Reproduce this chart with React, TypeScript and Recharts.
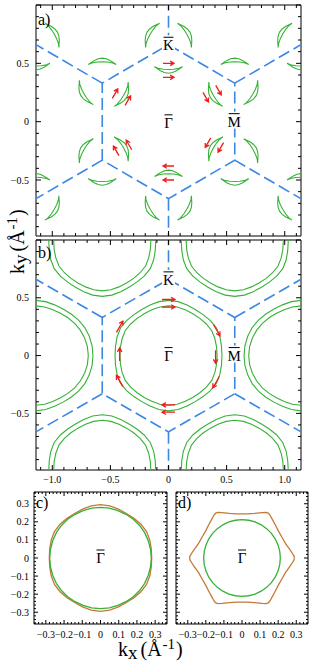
import React from 'react';
import { ScatterChart, Scatter, XAxis, YAxis } from 'recharts';

type Pt = { x: number; y: number };

const GREEN = '#35b235';
const RED = '#ee1d1d';
const BLUE = '#3b87e4';
const ORANGE = '#c47a36';
const SERIF = '"Liberation Serif", "Times New Roman", serif';

// Γ points of the surface lattice around the window of a) and b)
const gammaX = [0, 1.14, -1.14, 0.57, -0.57, 0.57, -0.57];
const gammaY = [0, 0, 0, 0.99, 0.99, -0.99, -0.99];

// zone boundary: central hexagon through the K corners, plus the spokes to the next zones
const hexX = [0, 0.57, 0.57, 0, -0.57, -0.57, 0];
const hexY = [0.66, 0.33, -0.33, -0.66, -0.33, 0.33, 0.66];
const spokeX0 = [0, 0.57, 0.57, 0, -0.57, -0.57];
const spokeY0 = [0.66, 0.33, -0.33, -0.66, -0.33, 0.33];
const spokeX1 = [0, 1.14, 1.14, 0, -1.14, -1.14];
const spokeY1 = [1.32, 0.66, -0.66, -1.32, -0.66, 0.66];

// a) crescent pockets: directions from each Γ, distance per Γ, outline (u along, v across)
const crescentDirs = [30, 90, 150, 210, 270, 330];
const crescentDist = [0.44, 0.47, 0.47, 0.47, 0.47, 0.47, 0.47];
const crescentU = [-0.12, -0.09, -0.045, 0, 0.045, 0.09, 0.12, 0.1, 0.07, 0.035, 0, -0.035, -0.07, -0.1, -0.12];
const crescentV = [0.03, 0.017, 0.009, 0.007, 0.009, 0.017, 0.03, 0.017, -0.003, -0.019, -0.025, -0.019, -0.003, 0.017, 0.03];

// a) spin arrows
const arrowAX = [0, 0, 0, 0, 0.32, 0.43, 0.34, 0.45, -0.35, -0.46, -0.34, -0.45];
const arrowAY = [0.5, 0.38, -0.38, -0.5, 0.21, 0.27, -0.18, -0.22, 0.18, 0.24, -0.2, -0.25];
const arrowADir = [0, 0, 180, 180, -60, -60, -120, -120, 60, 60, 120, 120];

// b) pockets, first quadrant (angle, radius); the left/right neighbours bulge towards the centre
const pocketAng = [0, 10, 20, 30, 40, 50, 60, 70, 80, 90];
const pocketOuterR = [0.46, 0.463, 0.471, 0.477, 0.471, 0.463, 0.46, 0.465, 0.474, 0.478];
const pocketInnerR = [0.418, 0.42, 0.425, 0.43, 0.425, 0.42, 0.418, 0.421, 0.427, 0.43];
const sideOuterR = [0.49, 0.49, 0.488, 0.485, 0.478, 0.47, 0.465, 0.467, 0.474, 0.478];
const sideInnerR = [0.45, 0.449, 0.445, 0.44, 0.434, 0.427, 0.422, 0.423, 0.427, 0.43];
const sidePocket = [false, true, true, false, false, false, false];

// b) spin arrows
const arrowBX = [0, 0, 0, 0, 0.415, 0.405, 0.41, -0.42, -0.42, -0.42];
const arrowBY = [0.485, 0.42, -0.427, -0.49, 0.22, -0.01, -0.23, 0.25, 0.01, -0.22];
const arrowBDir = [0, 0, 180, 180, -60, -90, -120, 60, 90, 120];

// c) and d) contours, first quadrant
const ringAng = [0, 10, 20, 30, 40, 50, 60, 70, 80, 90];
const cInnerR = [0.279, 0.279, 0.279, 0.28, 0.28, 0.28, 0.279, 0.279, 0.28, 0.28];
const cOuterR = [0.281, 0.283, 0.288, 0.292, 0.29, 0.286, 0.284, 0.288, 0.293, 0.295];
const dInnerR = [0.212, 0.212, 0.212, 0.212, 0.212, 0.212, 0.212, 0.212, 0.212, 0.212];
const dOuterX = [0.29, 0.287, 0.279, 0.266, 0.241, 0.221, 0.201, 0.183, 0.167, 0.156, 0.147, 0.135, 0.11, 0.07, 0.03, 0];
const dOuterY = [0, 0.012, 0.025, 0.045, 0.08, 0.115, 0.15, 0.185, 0.215, 0.235, 0.247, 0.252, 0.251, 0.247, 0.244, 0.244];

// high-symmetry point labels
const symAX = [0, 0, 0.565];
const symAY = [-0.01, 0.655, 0];
const symBX = [0, 0, 0.565];
const symBY = [0, 0.655, 0];
const symT = ['Γ', 'K', 'M'];

// ticks
const abTicksX = [-1.1, -1.0, -0.9, -0.8, -0.7, -0.6, -0.5, -0.4, -0.3, -0.2, -0.1, 0, 0.1, 0.2, 0.3, 0.4, 0.5, 0.6, 0.7, 0.8, 0.9, 1.0, 1.1];
const abTicksY = [-0.9, -0.8, -0.7, -0.6, -0.5, -0.4, -0.3, -0.2, -0.1, 0, 0.1, 0.2, 0.3, 0.4, 0.5, 0.6, 0.7, 0.8, 0.9, 1.0];
const abMajor = [-1.0, -0.5, 0, 0.5, 1.0];
const abLabelsX = [-1.0, -0.5, 0, 0.5, 1.0];
const abLabelsY = [-0.5, 0, 0.5];
const cdTicks = [-0.36, -0.34, -0.32, -0.3, -0.28, -0.26, -0.24, -0.22, -0.2, -0.18, -0.16, -0.14, -0.12, -0.1, -0.08, -0.06, -0.04, -0.02, 0, 0.02, 0.04, 0.06, 0.08, 0.1, 0.12, 0.14, 0.16, 0.18, 0.2, 0.22, 0.24, 0.26, 0.28, 0.3, 0.32, 0.34, 0.36];
const cdMajor = [-0.3, -0.2, -0.1, 0, 0.1, 0.2, 0.3];

const rad = (d: number) => (d * Math.PI) / 180;

// mirror a first-quadrant curve into a closed loop
const quadLoop = (q: Pt[], cx = 0, cy = 0): Pt[] => {
  const q2 = [...q].reverse().map((p) => ({ x: -p.x, y: p.y }));
  const q3 = q.map((p) => ({ x: -p.x, y: -p.y }));
  const q4 = [...q].reverse().map((p) => ({ x: p.x, y: -p.y }));
  return [...q, ...q2, ...q3, ...q4].map((p) => ({ x: p.x + cx, y: p.y + cy }));
};
const polarLoop = (ang: number[], r: number[], cx = 0, cy = 0) =>
  quadLoop(ang.map((a, i) => ({ x: r[i] * Math.cos(rad(a)), y: r[i] * Math.sin(rad(a)) })), cx, cy);

const crescent = (gx: number, gy: number, dist: number, dir: number): Pt[] => {
  const c = Math.cos(rad(dir));
  const s = Math.sin(rad(dir));
  return crescentU.map((u, i) => {
    const r = dist + crescentV[i];
    return { x: gx + r * c - u * s, y: gy + r * s + u * c };
  });
};

type Line = { pts: Pt[]; color: string; width: number; dash?: string };

const zoneLines = (): Line[] => [
  { pts: hexX.map((x, i) => ({ x, y: hexY[i] })), color: BLUE, width: 1.6, dash: '12 5' },
  ...spokeX0.map((x, i) => ({
    pts: [{ x, y: spokeY0[i] }, { x: spokeX1[i], y: spokeY1[i] }],
    color: BLUE,
    width: 1.6,
    dash: '12 5',
  })),
];

const linesA: Line[] = [
  ...zoneLines(),
  ...gammaX.flatMap((gx, g) =>
    crescentDirs.map((d) => ({ pts: crescent(gx, gammaY[g], crescentDist[g], d), color: GREEN, width: 1.1 })),
  ),
];
const linesB: Line[] = [
  ...zoneLines(),
  ...gammaX.flatMap((gx, g) => [
    { pts: polarLoop(pocketAng, sidePocket[g] ? sideOuterR : pocketOuterR, gx, gammaY[g]), color: GREEN, width: 1.1 },
    { pts: polarLoop(pocketAng, sidePocket[g] ? sideInnerR : pocketInnerR, gx, gammaY[g]), color: GREEN, width: 1.1 },
  ]),
];
const linesC: Line[] = [
  { pts: polarLoop(ringAng, cOuterR), color: ORANGE, width: 1.3 },
  { pts: polarLoop(ringAng, cInnerR), color: GREEN, width: 1.3 },
];
const linesD: Line[] = [
  { pts: quadLoop(dOuterX.map((x, i) => ({ x, y: dOuterY[i] }))), color: ORANGE, width: 1.3 },
  { pts: polarLoop(ringAng, dInnerR), color: GREEN, width: 1.3 },
];

const arrowsA = arrowAX.map((x, i) => ({ x, y: arrowAY[i], a: arrowADir[i] }));
const arrowsB = arrowBX.map((x, i) => ({ x, y: arrowBY[i], a: arrowBDir[i] }));
const symbolsA = symAX.map((x, i) => ({ x, y: symAY[i], t: symT[i] }));
const symbolsB = symBX.map((x, i) => ({ x, y: symBY[i], t: symT[i] }));
const symbolsC = [{ x: 0, y: 0, t: 'Γ' }];

const fmt = (v: number) => (v === 0 ? '0' : (v < 0 ? '\u2212' : '') + Math.abs(v).toFixed(1));
const near = (list: number[], v: number) => list.some((m) => Math.abs(m - v) < 1e-6);

function FrameTick(props: any) {
  const { x, y, payload, side, majors, labelled, gap, big, small } = props;
  const v = payload.value;
  const len = near(majors, v) ? big : small;
  const lab = near(labelled, v);
  const txt = { fontSize: 10, fontFamily: SERIF, fill: '#000' };
  if (side === 'bottom')
    return (
      <g>
        <line x1={x} y1={y} x2={x} y2={y - len} stroke="#000" />
        {lab && <text x={x} y={y + gap} textAnchor="middle" {...txt}>{fmt(v)}</text>}
      </g>
    );
  if (side === 'top') return <line x1={x} y1={y} x2={x} y2={y + len} stroke="#000" />;
  if (side === 'left')
    return (
      <g>
        <line x1={x} y1={y} x2={x + len} y2={y} stroke="#000" />
        {lab && <text x={x - gap} y={y + 3.5} textAnchor="end" {...txt}>{fmt(v)}</text>}
      </g>
    );
  return <line x1={x} y1={y} x2={x - len} y2={y} stroke="#000" />;
}

function ArrowMark(props: any) {
  const { cx, cy, len } = props;
  const d = props.payload ?? props;
  const dx = Math.cos(rad(d.a));
  const dy = -Math.sin(rad(d.a));
  const hx = cx + (dx * len) / 2;
  const hy = cy + (dy * len) / 2;
  const tx = cx - (dx * len) / 2;
  const ty = cy - (dy * len) / 2;
  const h = 4.5;
  const f = rad(30);
  const b1x = hx + h * (-dx * Math.cos(f) + dy * Math.sin(f));
  const b1y = hy + h * (-dx * Math.sin(f) - dy * Math.cos(f));
  const b2x = hx + h * (-dx * Math.cos(f) - dy * Math.sin(f));
  const b2y = hy + h * (dx * Math.sin(f) - dy * Math.cos(f));
  return (
    <path
      d={`M${tx},${ty}L${hx},${hy}M${b1x},${b1y}L${hx},${hy}L${b2x},${b2y}`}
      stroke={RED}
      strokeWidth={1.3}
      fill="none"
    />
  );
}

const SYMBOL_W: Record<string, number> = { 'Γ': 8, K: 10, M: 11 };

function SymbolMark(props: any) {
  const { cx, cy } = props;
  const d = props.payload ?? props;
  const w = SYMBOL_W[d.t] ?? 10;
  return (
    <g>
      <rect x={cx - w / 2 - 1.5} y={cy - 10} width={w + 3} height={17} fill="#fff" />
      <line x1={cx - w / 2} x2={cx + w / 2} y1={cy - 8} y2={cy - 8} stroke="#000" strokeWidth={1} />
      <text x={cx} y={cy + 5} textAnchor="middle" fontSize={15} fontFamily={SERIF} fill="#000">
        {d.t}
      </text>
    </g>
  );
}

const noDot = () => <g />;

interface PanelProps {
  left: number;
  top: number;
  width: number;
  height: number;
  xDomain: [number, number];
  yDomain: [number, number];
  axisW: [number, number];
  axisH: [number, number];
  xTicks: number[];
  yTicks: number[];
  majors: number[];
  xLabels: number[];
  yLabels: number[];
  xGap: number;
  yGap: number;
  tickLen: [number, number];
  lines: Line[];
  arrows?: { x: number; y: number; a: number }[];
  arrowLen?: number;
  symbols: { x: number; y: number; t: string }[];
}

function Panel(p: PanelProps) {
  const [big, small] = p.tickLen;
  const common = { type: 'number' as const, allowDataOverflow: true, interval: 0, tickSize: 0, tickMargin: 0, tickLine: false, axisLine: { stroke: '#000' } };
  return (
    <div style={{ position: 'absolute', left: p.left, top: p.top, width: p.width, height: p.height }}>
      <ScatterChart width={p.width} height={p.height} margin={{ top: 0, right: 0, bottom: 0, left: 0 }}>
        <XAxis
          {...common}
          xAxisId="b"
          dataKey="x"
          orientation="bottom"
          domain={p.xDomain}
          ticks={p.xTicks}
          height={p.axisH[1]}
          tick={<FrameTick side="bottom" majors={p.majors} labelled={p.xLabels} gap={p.xGap} big={big} small={small} />}
        />
        <XAxis
          {...common}
          xAxisId="t"
          dataKey="x"
          orientation="top"
          domain={p.xDomain}
          ticks={p.xTicks}
          height={p.axisH[0]}
          tick={<FrameTick side="top" majors={p.majors} labelled={[]} big={big} small={small} />}
        />
        <YAxis
          {...common}
          yAxisId="l"
          dataKey="y"
          orientation="left"
          domain={p.yDomain}
          ticks={p.yTicks}
          width={p.axisW[0]}
          tick={<FrameTick side="left" majors={p.majors} labelled={p.yLabels} gap={p.yGap} big={big} small={small} />}
        />
        <YAxis
          {...common}
          yAxisId="r"
          dataKey="y"
          orientation="right"
          domain={p.yDomain}
          ticks={p.yTicks}
          width={p.axisW[1]}
          tick={<FrameTick side="right" majors={p.majors} labelled={[]} big={big} small={small} />}
        />
        {p.lines.map((s, i) => (
          <Scatter
            key={'line' + i}
            xAxisId="b"
            yAxisId="l"
            data={s.pts}
            line={{ stroke: s.color, strokeWidth: s.width, strokeDasharray: s.dash }}
            lineType="joint"
            shape={noDot}
            isAnimationActive={false}
          />
        ))}
        {p.arrows && (
          <Scatter
            xAxisId="b"
            yAxisId="l"
            data={p.arrows}
            shape={(props: any) => <ArrowMark {...props} len={p.arrowLen} />}
            isAnimationActive={false}
          />
        )}
        <Scatter xAxisId="t" yAxisId="r" data={p.symbols} shape={SymbolMark} isAnimationActive={false} />
      </ScatterChart>
    </div>
  );
}

export default function App() {
  const abX: [number, number] = [-1.14, 1.14];
  const cd: [number, number] = [-0.365, 0.365];
  return (
    <div style={{ position: 'absolute', left: 0, top: 0, width: 318, height: 665, background: '#fff' }}>
      <Panel
        left={0} top={0} width={318} height={240}
        xDomain={abX} yDomain={[-0.98, 1.0]}
        axisW={[36, 17]} axisH={[5, 4]}
        xTicks={abTicksX} yTicks={abTicksY} majors={abMajor}
        xLabels={[]} yLabels={abLabelsY} xGap={12} yGap={7} tickLen={[5, 3]}
        lines={linesA} arrows={arrowsA} arrowLen={11} symbols={symbolsA}
      />
      <Panel
        left={0} top={237} width={318} height={253}
        xDomain={abX} yDomain={[-0.99, 1.0]}
        axisW={[36, 17]} axisH={[3, 20]}
        xTicks={abTicksX} yTicks={abTicksY} majors={abMajor}
        xLabels={abLabelsX} yLabels={abLabelsY} xGap={12.5} yGap={7} tickLen={[5, 3]}
        lines={linesB} arrows={arrowsB} arrowLen={13} symbols={symbolsB}
      />
      <Panel
        left={0} top={486} width={172} height={162}
        xDomain={cd} yDomain={cd}
        axisW={[34, 5]} axisH={[6, 24]}
        xTicks={cdTicks} yTicks={cdTicks} majors={cdMajor}
        xLabels={cdMajor} yLabels={cdMajor} xGap={13.5} yGap={5} tickLen={[4, 2]}
        lines={linesC} symbols={symbolsC}
      />
      <Panel
        left={170} top={486} width={148} height={162}
        xDomain={cd} yDomain={cd}
        axisW={[6, 10]} axisH={[6, 24]}
        xTicks={cdTicks} yTicks={cdTicks} majors={cdMajor}
        xLabels={cdMajor} yLabels={[]} xGap={13.5} yGap={5} tickLen={[4, 2]}
        lines={linesD} symbols={symbolsC}
      />
      <svg
        width={318}
        height={665}
        style={{ position: 'absolute', left: 0, top: 0, pointerEvents: 'none' }}
        fontFamily={SERIF}
        fill="#000"
      >
        <text x={38} y={25} fontSize={16}>a)</text>
        <text x={38} y={258} fontSize={16}>b)</text>
        <text x={36} y={508} fontSize={16}>c)</text>
        <text x={178} y={508} fontSize={16}>d)</text>
        <text x={118} y={656} fontSize={20}>
          k<tspan fontSize={19} dy={3}>x</tspan>
          <tspan dx={3} dy={-3}>(Å</tspan>
          <tspan fontSize={15} dx={1} dy={-7}>-1</tspan>
          <tspan dx={1} dy={7}>)</tspan>
        </text>
        <text transform="translate(24,274) rotate(-90)" x={0} y={0} fontSize={20}>
          k<tspan fontSize={19} dy={3}>y</tspan>
          <tspan dx={3} dy={-3}>(Å</tspan>
          <tspan fontSize={15} dx={1} dy={-7}>-1</tspan>
          <tspan dx={1} dy={7}>)</tspan>
        </text>
      </svg>
    </div>
  );
}
